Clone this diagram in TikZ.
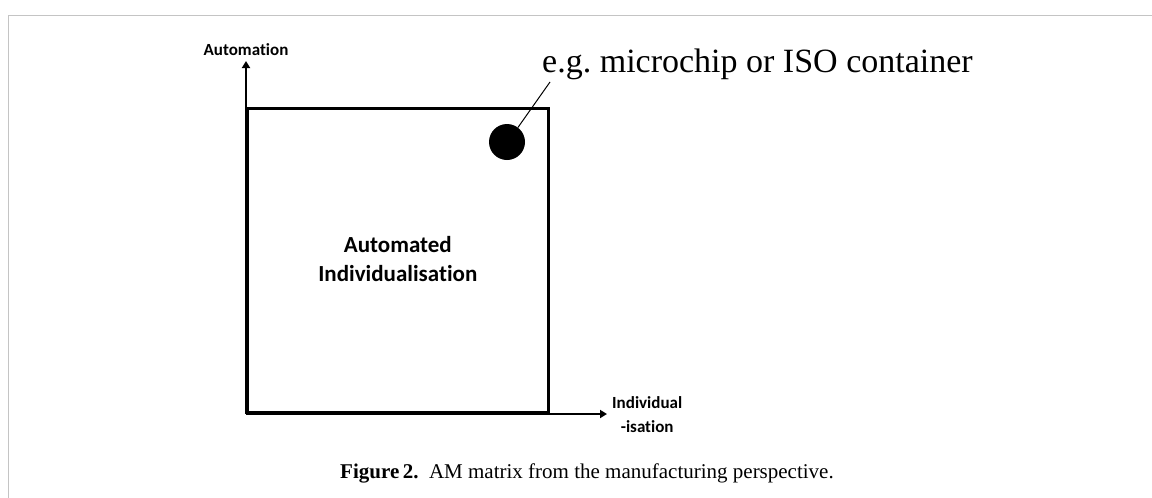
\documentclass[tikz,border=0pt]{standalone}
\usepackage{fontspec}
\usepackage{xcolor}
\usepackage{tikz}
\usetikzlibrary{arrows.meta,positioning,calc}
\setmainfont{Liberation Serif}
\newfontfamily\calibrifont[Ligatures={NoCommon}]{Carlito}
\definecolor{FrameGrey}{HTML}{C4C4C4}
\frenchspacing

\begin{document}
\begin{tikzpicture}[x=1pt,y=-1pt,
  axis/.style={line width=2.6pt,-{Triangle[length=7pt,width=8pt]}},
  matrixbox/.style={draw,line width=2.6pt,minimum width=301pt,minimum height=304pt,inner sep=0pt,anchor=south west},
  axislabel/.style={font=\calibrifont\bfseries\fontsize{17}{23}\selectfont,inner sep=0pt,align=center}]
\useasboundingbox (0,0) rectangle (1152,498);
\draw[FrameGrey,line width=1.5pt] (8.5,498) -- (8.5,15.5) -- (1152,15.5);
\coordinate (origin) at (246,414);
\coordinate (ytip) at (246,61);
\coordinate (xtip) at (607,414);
\node[matrixbox] (box) at (origin)
  {\calibrifont\bfseries\fontsize{23}{29}\selectfont\begin{tabular}{c}Automated\\Individualisation\end{tabular}};
\draw[axis] (box.south west) -- (ytip);
\draw[axis] (box.south west) -- (xtip);
\node[axislabel,anchor=south] (ylab) at (246,56) {Automation};
\node[axislabel,anchor=west] (xlab) at (612,415) {Individual\\[1pt]-isation};
\node[circle,fill,minimum size=36pt,inner sep=0pt] (chip) at (507,142) {};
\node[anchor=base west,inner sep=0pt,font=\fontsize{34}{40}\selectfont] (chiplabel) at (542,72)
  {e.g. microchip or ISO container};
\coordinate (callout) at (550,82);
\draw[line width=1pt] (chip.53) -- (callout);
\node[font=\fontsize{21}{25}\selectfont] (caption) at (587,473)
  {\textbf{Figure\,2.}\ \ AM matrix from the manufacturing perspective.};
\end{tikzpicture}
\end{document}
